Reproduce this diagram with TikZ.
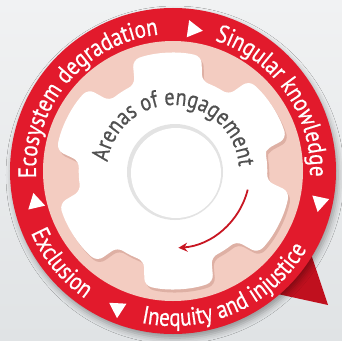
\documentclass[tikz,border=0pt]{standalone}
\usepackage{fontspec}
\setmainfont{PT Sans}
\newfontfamily\narrowfam[FakeStretch=0.84,FakeBold=0.6]{PT Sans}
\usetikzlibrary{decorations.text,shapes.geometric,shadows.blur,arrows.meta}
\definecolor{ringred}{RGB}{226,26,44}
\definecolor{tailred}{RGB}{192,16,30}
\definecolor{discpink}{RGB}{243,204,193}
\definecolor{gearshade}{RGB}{222,176,164}
\definecolor{labelgray}{RGB}{80,80,80}
\definecolor{arrowred}{RGB}{200,22,34}
\definecolor{bgtop}{RGB}{241,242,243}
\definecolor{bgbottom}{RGB}{224,227,229}
\newcommand\ringfont{\narrowfam\fontsize{25}{25}\selectfont}
\newcommand\hubfont{\narrowfam\fontsize{24}{24}\selectfont}
% one gear outline, six teeth
\newcommand\gearoutline{(13:95pt) foreach \t in {33,93,...,333} {
    -- (\t-17:118pt) arc[start angle=\t-17,end angle=\t+17,radius=118pt]
    -- (\t+21:94pt) arc[start angle=\t+21,end angle=\t+39,radius=94pt]} -- cycle}

\begin{document}
\begin{tikzpicture}[x=1pt,y=1pt,
  ringlabel/.style={decorate,decoration={text along path,text align=center,text color=white,text={|\ringfont|#1}}},
  hublabel/.style={decorate,decoration={text along path,text align=center,text color=labelgray,text={|\hubfont|#1}}},
  pointer/.style={regular polygon,regular polygon sides=3,fill=white,inner sep=0pt,minimum size=20pt},
  turn/.style={-{Stealth[length=9pt,width=9pt]},line width=1.8pt,arrowred}
]
  \shade[top color=bgtop,bottom color=bgbottom] (-173,-169) rectangle (169,171);
  \useasboundingbox (-173,-169) rectangle (169,171);

  % speech tail and ring
  \fill[tailred] (155,-134) -- (136,-77) -- (100,-122) -- cycle;
  \path[fill=ringred,blur shadow={shadow xshift=2pt,shadow yshift=-4pt,shadow blur radius=6pt,shadow opacity=35}] (0,0) circle (163pt);
  \fill[discpink] (0,0) circle (130pt);

  % gear
  \fill[gearshade,rounded corners=7pt,shift={(2,-3)}] \gearoutline;
  \fill[white,rounded corners=7pt] \gearoutline;
  \fill[gray!22] (2,-1) circle (48pt);
  \fill[white] (3,-2) circle (45pt);

  % ring labels
  \path[ringlabel={Ecosystem degradation}] (200:137pt) arc[start angle=200,end angle=79,radius=137pt];
  \path[ringlabel={Singular knowledge}] (80:137pt) arc[start angle=80,end angle=-10,radius=137pt];
  \path[ringlabel={Exclusion}] (190:155pt) arc[start angle=190,end angle=249,radius=155pt];
  \path[ringlabel={Inequity and injustice}] (243:155pt) arc[start angle=243,end angle=345,radius=155pt];

  \node[pointer,rotate=-98] (toknowledge) at (82:143pt) {};
  \node[pointer,rotate=-192] (toinequity) at (-12:150pt) {};
  \node[pointer,rotate=-183] (toexclusion) at (248:148pt) {};
  \node[pointer,rotate=13] (toecosystem) at (193:141pt) {};

  % hub
  \path[hublabel={Arenas of engagement}] (200:66pt) arc[start angle=200,end angle=-24,radius=66pt];
  \coordinate (turnstart) at (-14:77pt);
  \draw[turn] (turnstart) arc[start angle=-14,end angle=-86,radius=77pt];
\end{tikzpicture}
\end{document}
